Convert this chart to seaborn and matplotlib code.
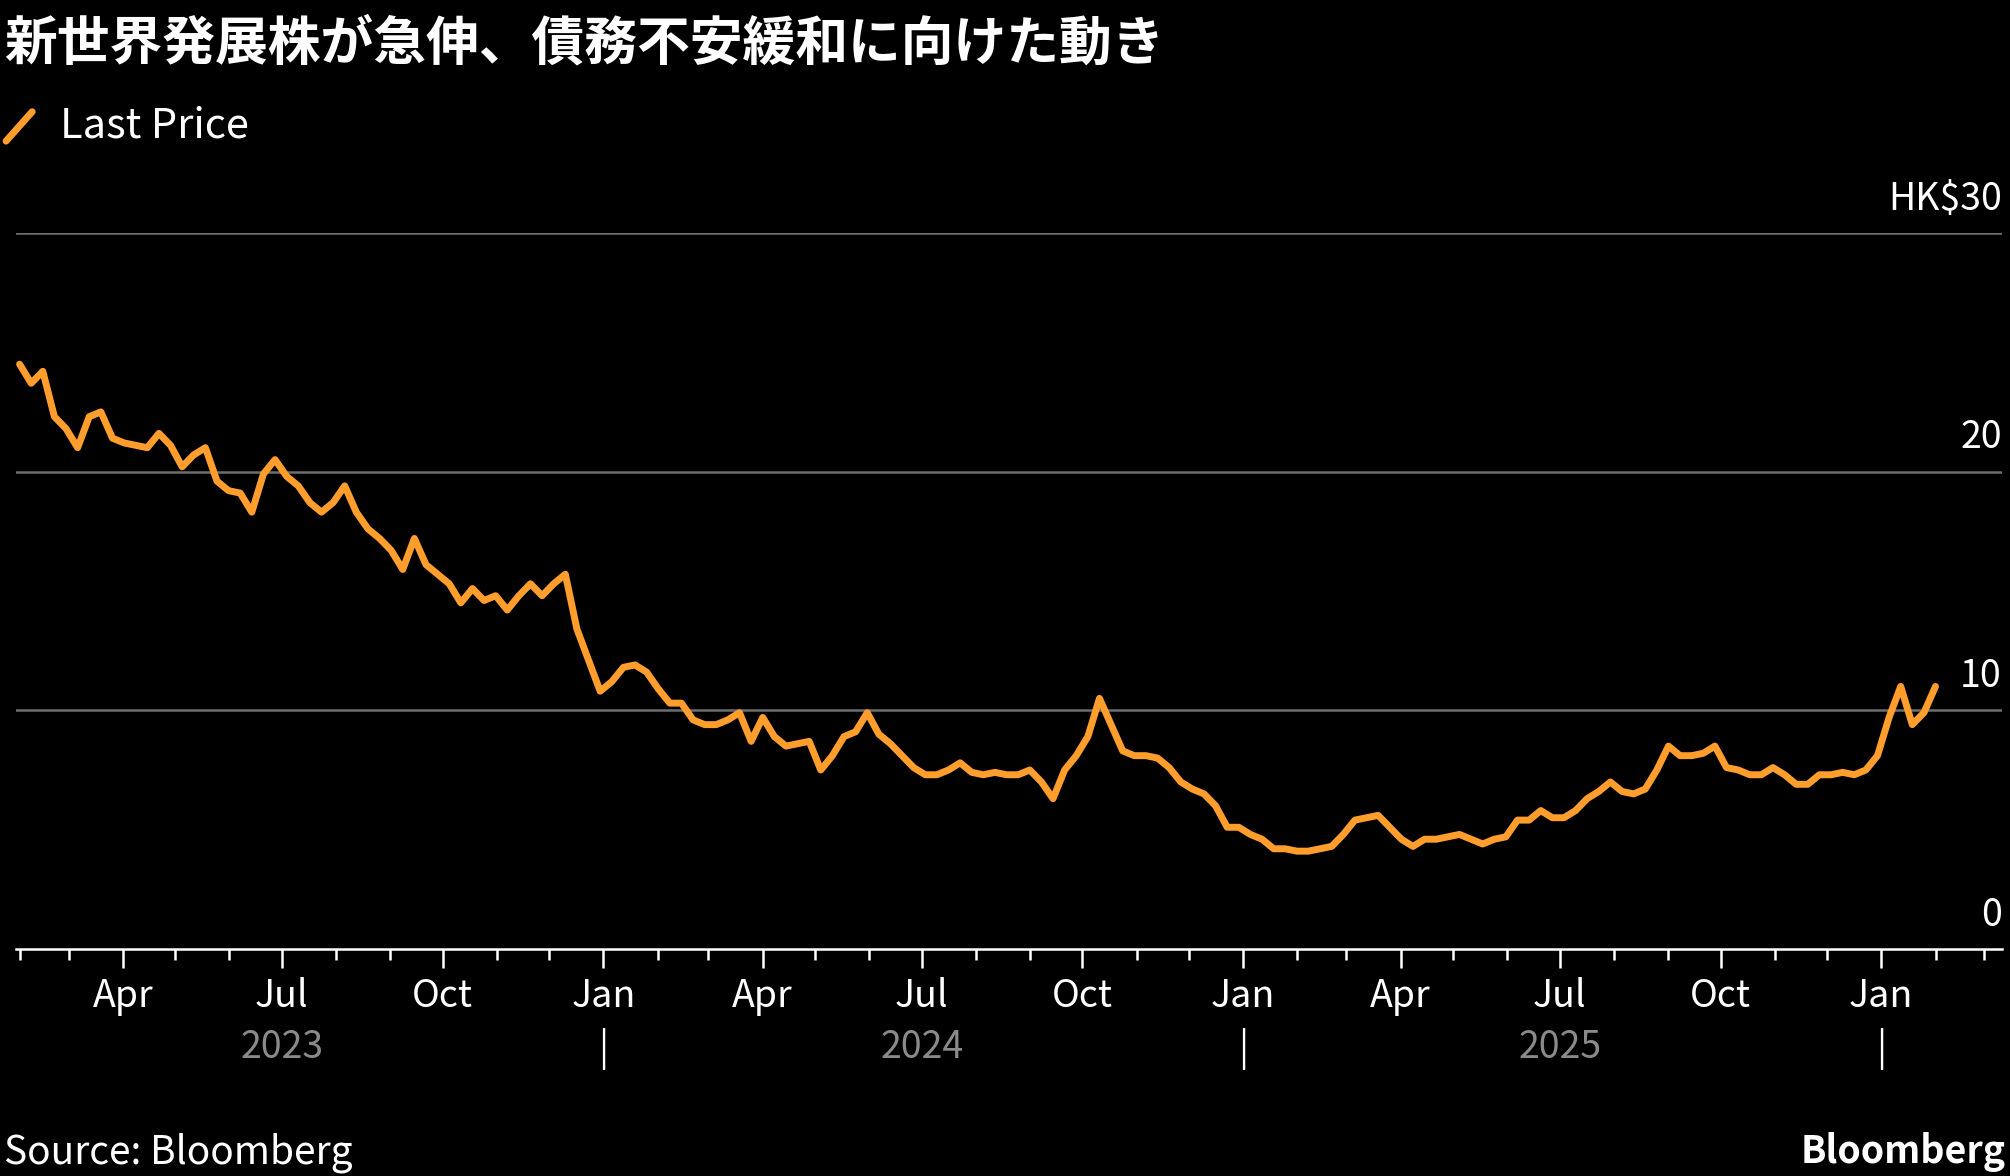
import pandas as pd
import numpy as np
import matplotlib.pyplot as plt
import matplotlib.dates as mdates
import matplotlib.transforms as mtrans
import seaborn as sns

# ==========================
# 数据（周线，目测读取）
# ==========================
start_date = "2023-02-01"
end_date = "2026-02-01"
price = [
    24.5, 23.7, 24.2, 22.3, 21.8, 21.0, 22.3, 22.5, 21.4, 21.2, 21.1, 21.0, 21.6, 21.1,
    20.2, 20.7, 21.0, 19.6, 19.2, 19.1, 18.3, 19.9, 20.5, 19.8, 19.4, 18.7, 18.3, 18.7,
    19.4, 18.3, 17.6, 17.2, 16.7, 15.9, 17.2, 16.1, 15.7, 15.3, 14.5, 15.1, 14.6, 14.8,
    14.2, 14.8, 15.3, 14.8, 15.3, 15.7, 13.4, 12.1, 10.8, 11.2, 11.8, 11.9, 11.6, 10.9,
    10.3, 10.3, 9.6, 9.4, 9.4, 9.6, 9.9, 8.7, 9.7, 8.9, 8.5, 8.6, 8.7, 7.5, 8.1, 8.9,
    9.1, 9.9, 9.0, 8.6, 8.1, 7.6, 7.3, 7.3, 7.5, 7.8, 7.4, 7.3, 7.4, 7.3, 7.3, 7.5,
    7.0, 6.3, 7.5, 8.1, 8.9, 10.5, 9.4, 8.3, 8.1, 8.1, 8.0, 7.6, 7.0, 6.7, 6.5, 6.0,
    5.1, 5.1, 4.8, 4.6, 4.2, 4.2, 4.1, 4.1, 4.2, 4.3, 4.8, 5.4, 5.5, 5.6, 5.1, 4.6,
    4.3, 4.6, 4.6, 4.7, 4.8, 4.6, 4.4, 4.6, 4.7, 5.4, 5.4, 5.8, 5.5, 5.5, 5.8, 6.3,
    6.6, 7.0, 6.6, 6.5, 6.7, 7.5, 8.5, 8.1, 8.1, 8.2, 8.5, 7.6, 7.5, 7.3, 7.3, 7.6,
    7.3, 6.9, 6.9, 7.3, 7.3, 7.4, 7.3, 7.5, 8.1, 9.7, 11.0, 9.4, 9.9, 11.0,
]
y_ticks = [0, 10, 20, 30]
y_labels = ["0", "10", "20", "HK$30"]
years = [2023, 2024, 2025]

df = pd.DataFrame({
    "date": pd.date_range(start_date, end_date, periods=len(price)),
    "price": price,
})

# ==========================
# 绘图
# ==========================
sns.set_theme(style="dark")
plt.rcParams["font.family"] = ["Noto Sans CJK JP", "DejaVu Sans"]
bg = "black"
fg = "white"
grey = "#8a8a8a"
orange = "#ff9e2c"

fig = plt.figure(figsize=(20.1, 11.76), dpi=100, facecolor=bg)
ax = fig.add_axes([0.008, 0.193, 0.988, 0.609], facecolor=bg)

sns.lineplot(data=df, x="date", y="price", ax=ax, color=orange, linewidth=5)

ax.set_ylim(0, 30)
ax.set_xlim(pd.Timestamp("2023-01-30"), pd.Timestamp("2026-03-11"))
ax.set_xlabel("")
ax.set_ylabel("")
ax.set_yticks(y_ticks)
ax.set_yticklabels([])
ax.tick_params(axis="y", length=0)
for v in y_ticks[1:]:
    ax.axhline(v, color="#6e6e6e", linewidth=1.8, zorder=0)
for v, lab in zip(y_ticks, y_labels):
    ax.text(1.0, v + 0.6, lab, transform=ax.get_yaxis_transform(), ha="right",
            va="bottom", color=fg, fontsize=27)

for s in ["top", "right", "left"]:
    ax.spines[s].set_visible(False)
ax.spines["bottom"].set_color(fg)
ax.spines["bottom"].set_linewidth(1.8)

ax.xaxis.set_major_locator(mdates.MonthLocator(bymonth=[1, 4, 7, 10]))
ax.xaxis.set_major_formatter(mdates.DateFormatter("%b"))
ax.xaxis.set_minor_locator(mdates.MonthLocator())
ax.tick_params(axis="x", which="both", colors=fg, direction="out", bottom=True)
ax.tick_params(axis="x", which="major", length=14, width=1.8, labelsize=27, pad=6)
ax.tick_params(axis="x", which="minor", length=8, width=1.8)
ax.grid(False)

tr = mtrans.blended_transform_factory(ax.transData, ax.transAxes)
for yr in years:
    ax.text(mdates.date2num(pd.Timestamp(f"{yr}-07-01")), -0.11, str(yr),
            transform=tr, ha="center", va="top", color=grey, fontsize=27)
    ax.text(mdates.date2num(pd.Timestamp(f"{yr + 1}-01-01")), -0.11, "|",
            transform=tr, ha="center", va="top", color=fg, fontsize=27)

fig.text(0.002, 0.985, "新世界発展株が急伸、債務不安緩和に向けた動き", ha="left", va="top",
         color=fg, fontsize=38, fontweight="bold")
fig.add_artist(plt.Line2D([0.003, 0.016], [0.880, 0.905], color=orange, linewidth=5))
fig.text(0.03, 0.893, "Last Price", ha="left", va="center", color=fg, fontsize=30)
fig.text(0.002, 0.02, "Source: Bloomberg", ha="left", va="center", color=fg, fontsize=28)
fig.text(0.998, 0.02, "Bloomberg", ha="right", va="center", color=fg, fontsize=27,
         fontweight="bold")

fig.savefig("out.png", dpi=100, facecolor=bg)
